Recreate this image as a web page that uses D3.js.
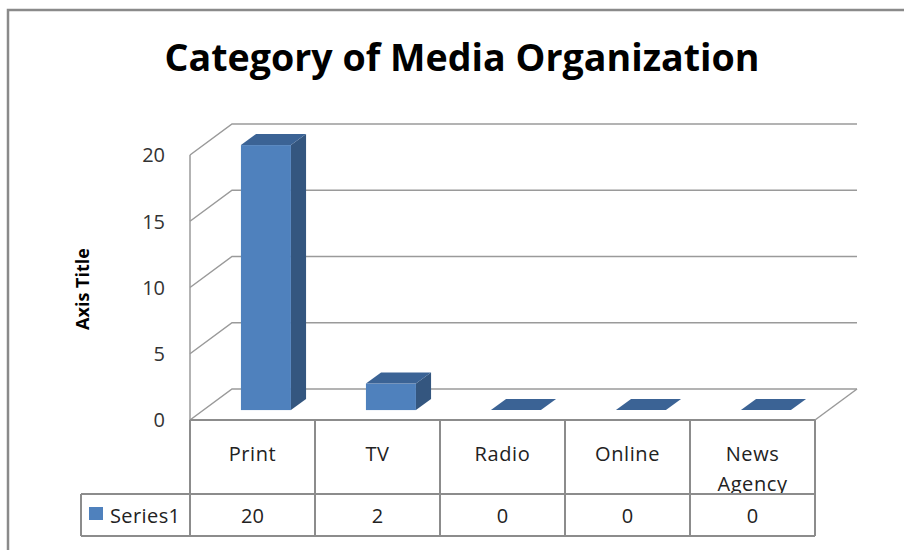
<!DOCTYPE html>
<html>
<head>
<meta charset="utf-8">
<script src="https://cdn.jsdelivr.net/npm/d3@7"></script>
<style>
  html, body { margin: 0; padding: 0; background: #fff; }
  svg { display: block; }
  text { font-family: "Open Sans", "DejaVu Sans", sans-serif; }
</style>
</head>
<body>
<svg id="chart" width="904" height="550"></svg>
<script>
// Chart data
const categories = ["Print", "TV", "Radio", "Online", "News Agency"];
const seriesName = "Series1";
const seriesValues = [20, 2, 0, 0, 0];
const yTicks = [0, 5, 10, 15, 20];
const titleText = "Category of Media Organization";
const yAxisTitle = "Axis Title";

const svg = d3.select("#chart");

// Plot geometry (front plane + depth offset of the 3D box)
const plot = { left: 190, right: 815, top: 155, bottom: 420 };
const depth = { dx: 42, dy: -31 };
const barDepth = { f0: 0.32, f1: 0.68 };
const tableRows = { head: 74, val: 42 };
const legendLeft = 81;

const colors = {
  front: "#4f81bd",
  side: "#34567f",
  top: "#3b6395",
  grid: "#9a9a9a",
  table: "#8c8c8c",
  border: "#8a8a8a"
};

const x = d3.scaleBand()
  .domain(categories)
  .range([plot.left, plot.right])
  .paddingInner(0.6)
  .paddingOuter(0.3);

const y = d3.scaleLinear()
  .domain([0, 20])
  .range([plot.bottom, plot.top]);

// Outer chart frame
svg.append("rect")
  .attr("x", 8).attr("y", 10)
  .attr("width", 910).attr("height", 560)
  .attr("fill", "none")
  .attr("stroke", colors.border)
  .attr("stroke-width", 2.5);

// Title
const title = svg.append("text")
  .attr("x", 462).attr("y", 71)
  .attr("text-anchor", "middle")
  .attr("font-size", 38)
  .attr("font-weight", "bold")
  .attr("fill", "#000")
  .text(titleText);
title.attr("textLength", 595).attr("lengthAdjust", "spacingAndGlyphs");

// Walls: gridlines on side wall (diagonal) and back wall (horizontal)
const grid = svg.append("g")
  .attr("stroke", colors.grid)
  .attr("stroke-width", 1.5)
  .attr("fill", "none");

grid.selectAll("path.gl")
  .data(yTicks)
  .join("path")
  .attr("class", "gl")
  .attr("d", v => {
    const y0 = y(v);
    return `M${plot.left},${y0} L${plot.left + depth.dx},${y0 + depth.dy} L${plot.right + depth.dx},${y0 + depth.dy}`;
  });

// Front edge of the side wall
grid.append("line")
  .attr("x1", plot.left).attr("x2", plot.left)
  .attr("y1", y(20)).attr("y2", y(0));

// Floor: right-hand diagonal edge
grid.append("line")
  .attr("x1", plot.right).attr("y1", y(0))
  .attr("x2", plot.right + depth.dx).attr("y2", y(0) + depth.dy);

// Bars (3D columns)
const ox0 = depth.dx * barDepth.f0, oy0 = depth.dy * barDepth.f0;
const ox1 = depth.dx * barDepth.f1, oy1 = depth.dy * barDepth.f1;
const bars = svg.append("g");
const bw = x.bandwidth();

categories.forEach((c, i) => {
  const v = seriesValues[i];
  const xl = x(c) + ox0;
  const xr = xl + bw;
  const yb = y(0) + oy0;
  const yt = y(v) + oy0;
  const sx = ox1 - ox0, sy = oy1 - oy0;
  const g = bars.append("g");
  if (v > 0) {
    // side face
    g.append("path")
      .attr("d", `M${xr},${yt} L${xr + sx},${yt + sy} L${xr + sx},${yb + sy} L${xr},${yb} Z`)
      .attr("fill", colors.side);
    // front face
    g.append("rect")
      .attr("x", xl).attr("y", yt)
      .attr("width", bw).attr("height", yb - yt)
      .attr("fill", colors.front);
  }
  // top face
  g.append("path")
    .attr("d", `M${xl},${yt} L${xr},${yt} L${xr + sx},${yt + sy} L${xl + sx},${yt + sy} Z`)
    .attr("fill", colors.top);
});

// Y tick labels
svg.append("g")
  .selectAll("text")
  .data(yTicks)
  .join("text")
  .attr("x", 165)
  .attr("y", v => y(v) + 2)
  .attr("text-anchor", "end")
  .attr("dominant-baseline", "middle")
  .attr("font-size", 20)
  .attr("fill", "#333")
  .text(v => v);

// Y axis title
svg.append("text")
  .attr("transform", "translate(89,289) rotate(-90)")
  .attr("text-anchor", "middle")
  .attr("font-size", 18)
  .attr("font-weight", "bold")
  .attr("fill", "#000")
  .text(yAxisTitle);

// Data table
const table = svg.append("g");
const tTop = y(0);
const tMid = tTop + tableRows.head;
const tBot = tMid + tableRows.val;
const step = x.step();
const colEdges = d3.range(categories.length + 1).map(i => plot.left + i * step);

const tl = table.append("g")
  .attr("stroke", colors.table)
  .attr("stroke-width", 2)
  .attr("fill", "none");

// horizontal rules
tl.append("line").attr("x1", plot.left).attr("x2", plot.right).attr("y1", tTop).attr("y2", tTop);
tl.append("line").attr("x1", legendLeft).attr("x2", plot.right).attr("y1", tMid).attr("y2", tMid);
tl.append("line").attr("x1", legendLeft).attr("x2", plot.right).attr("y1", tBot).attr("y2", tBot);
// vertical rules
tl.selectAll("line.col")
  .data(colEdges)
  .join("line")
  .attr("class", "col")
  .attr("x1", d => d).attr("x2", d => d)
  .attr("y1", tTop).attr("y2", tBot);
tl.append("line").attr("x1", legendLeft).attr("x2", legendLeft).attr("y1", tMid).attr("y2", tBot);

// Category header cells (with wrapping, clipped to cell)
const defs = svg.append("defs");
categories.forEach((c, i) => {
  const id = "clip" + i;
  defs.append("clipPath").attr("id", id)
    .append("rect")
    .attr("x", colEdges[i]).attr("y", tTop)
    .attr("width", step).attr("height", tableRows.head - 1);
  const words = c.split(" ");
  const lineH = 30;
  const t = table.append("text")
    .attr("clip-path", `url(#${id})`)
    .attr("text-anchor", "middle")
    .attr("font-size", 20)
    .attr("letter-spacing", 0.6)
    .attr("fill", "#222");
  words.forEach((w, k) => {
    t.append("tspan")
      .attr("x", x(c) + bw / 2)
      .attr("y", tTop + 41 + k * lineH)
      .text(w);
  });
});

// Value cells
table.selectAll("text.val")
  .data(seriesValues)
  .join("text")
  .attr("class", "val")
  .attr("x", (d, i) => x(categories[i]) + bw / 2)
  .attr("y", tMid + 29)
  .attr("text-anchor", "middle")
  .attr("font-size", 20)
  .attr("fill", "#222")
  .text(d => d);

// Legend key in the table
table.append("rect")
  .attr("x", 89).attr("y", tMid + 13)
  .attr("width", 14).attr("height", 13)
  .attr("fill", colors.front);
table.append("text")
  .attr("x", 110).attr("y", tMid + 29)
  .attr("font-size", 20)
  .attr("letter-spacing", 0.4)
  .attr("fill", "#222")
  .text(seriesName);
</script>
</body>
</html>
